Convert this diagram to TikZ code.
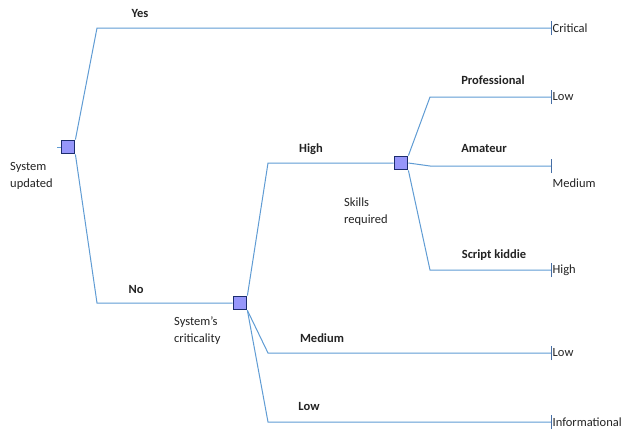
\documentclass[tikz,border=0pt]{standalone}
\usepackage{fontspec}
\setmainfont{Carlito}
\definecolor{branchblue}{RGB}{96,156,212}
\definecolor{tickblue}{RGB}{70,110,165}
\definecolor{boxfill}{RGB}{150,150,250}
\definecolor{boxedge}{RGB}{28,45,110}
\definecolor{ink}{RGB}{35,35,35}
\begin{document}
\begin{tikzpicture}[x=1pt,y=-1pt,
  decision/.style={draw=boxedge, line width=1.8pt, fill=boxfill, minimum size=13pt, inner sep=0pt},
  branch/.style={draw=branchblue, line width=1pt},
  endtick/.style={draw=tickblue, line width=1pt},
  lbl/.style={font=\fontsize{12.5}{15}\selectfont\bfseries, text=ink},
  txt/.style={font=\fontsize{12.5}{17}\selectfont, text=ink, inner sep=0pt},
  outcome/.style={font=\fontsize{12.5}{15}\selectfont, text=ink, anchor=west, inner sep=1.5pt}]
\useasboundingbox (0,0) rectangle (626,434);
\fill[white] (0,0) rectangle (626,434);

% decision squares
\node[decision] (root) at (68,147) {};
\node[decision] (crit) at (240,303) {};
\node[decision] (skill) at (401,163) {};

% bends and leaf ends
\coordinate (yesb) at (97,28);   \coordinate (yese) at (551,28);
\coordinate (nob) at (97,303);
\coordinate (highb) at (268,163);
\coordinate (medb) at (268,353); \coordinate (mede) at (551,353);
\coordinate (lowb) at (268,422); \coordinate (lowe) at (551,422);
\coordinate (prob) at (430,97);  \coordinate (proe) at (551,97);
\coordinate (amab) at (430,166); \coordinate (amae) at (551,166);
\coordinate (kidb) at (430,270); \coordinate (kide) at (551,270);
\coordinate (stub) at (57,147);

% branches
\draw[branch] (stub) -- (root.west);
\draw[branch] (root.north east) -- (yesb) -- (yese);
\draw[branch] (root.south east) -- (nob) -- (crit.west);
\draw[branch] (crit.north east) -- (highb) -- (skill.west);
\draw[branch] (crit.south east) -- (medb) -- (mede);
\draw[branch] (crit.south east) -- (lowb) -- (lowe);
\draw[branch] (skill.north east) -- (prob) -- (proe);
\draw[branch] (skill.east) -- (amab) -- (amae);
\draw[branch] (skill.south east) -- (kidb) -- (kide);

% terminal ticks
\foreach \e in {yese,mede,lowe,proe,amae,kide}
  \draw[endtick] ([yshift=-7pt]\e) -- ([yshift=7pt]\e);

% branch labels
\node[lbl] (lyes) at (140,13) {Yes};
\node[lbl] (lno) at (136,289) {No};
\node[lbl] (lhigh) at (311,149) {High};
\node[lbl] (lmed) at (322,338) {Medium};
\node[lbl] (llow) at (309,406) {Low};
\node[lbl] (lpro) at (493,80) {Professional};
\node[lbl] (lama) at (484,148) {Amateur};
\node[lbl] (lkid) at (494,255) {Script kiddie};

% decision captions
\node[txt, anchor=north west, align=left] (croot) at (10,162) {System\\updated};
\node[txt, anchor=north west, align=left] (ccrit) at (174,316) {System's\\criticality};
\node[txt, anchor=north west, align=left] (cskill) at (344,198) {Skills\\required};

% outcomes
\node[outcome] (ocrit) at (yese) {Critical};
\node[outcome] (olow1) at (proe) {Low};
\node[outcome] (omed) at ([yshift=-17pt]amae) {Medium};
\node[outcome] (ohigh) at (kide) {High};
\node[outcome] (olow2) at (mede) {Low};
\node[outcome] (oinf) at (lowe) {Informational};
\end{tikzpicture}
\end{document}
